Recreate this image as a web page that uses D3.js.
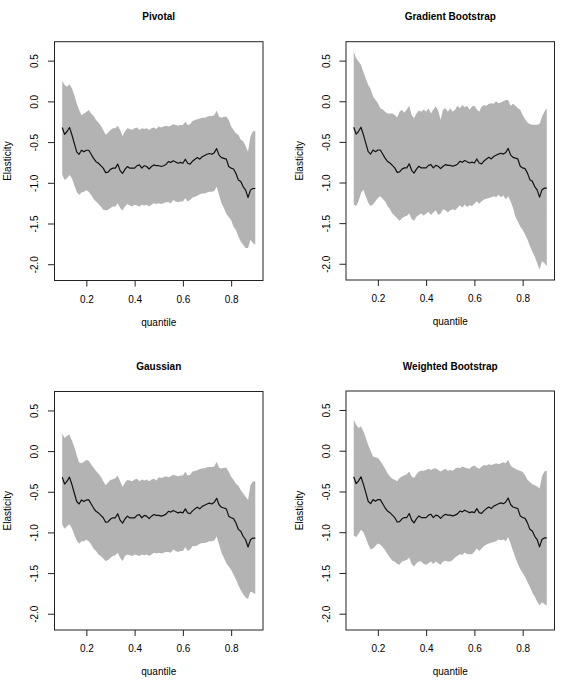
<!DOCTYPE html>
<html><head><meta charset="utf-8">
<script src="https://cdn.jsdelivr.net/npm/d3@7"></script>
<style>
body{margin:0;background:#fff;}
svg text{font-family:"Liberation Sans",Arial,Helvetica,sans-serif;fill:#000;}
</style></head>
<body><svg id="c" width="570" height="690"></svg>
<script>
const quantiles = [0.10,0.11,0.12,0.13,0.14,0.15,0.16,0.17,0.18,0.19,0.20,0.21,0.22,0.23,0.24,0.25,0.26,0.27,0.28,0.29,0.30,0.31,0.32,0.33,0.34,0.35,0.36,0.37,0.38,0.39,0.40,0.41,0.42,0.43,0.44,0.45,0.46,0.47,0.48,0.49,0.50,0.51,0.52,0.53,0.54,0.55,0.56,0.57,0.58,0.59,0.60,0.61,0.62,0.63,0.64,0.65,0.66,0.67,0.68,0.69,0.70,0.71,0.72,0.73,0.74,0.75,0.76,0.77,0.78,0.79,0.80,0.81,0.82,0.83,0.84,0.85,0.86,0.87,0.88,0.89,0.90];

const estimate = [-0.32,-0.405,-0.37,-0.32,-0.41,-0.515,-0.62,-0.65,-0.60,-0.62,-0.60,-0.60,-0.65,-0.70,-0.74,-0.76,-0.79,-0.82,-0.875,-0.87,-0.835,-0.82,-0.82,-0.77,-0.85,-0.885,-0.835,-0.80,-0.82,-0.82,-0.82,-0.79,-0.78,-0.82,-0.79,-0.80,-0.83,-0.80,-0.78,-0.79,-0.79,-0.80,-0.79,-0.775,-0.74,-0.75,-0.73,-0.745,-0.76,-0.75,-0.76,-0.71,-0.76,-0.77,-0.735,-0.71,-0.69,-0.71,-0.68,-0.665,-0.65,-0.64,-0.65,-0.63,-0.58,-0.66,-0.69,-0.70,-0.71,-0.80,-0.82,-0.83,-0.885,-0.965,-0.985,-1.05,-1.09,-1.18,-1.09,-1.07,-1.07];

const pivotalUpper = [0.25,0.20,0.18,0.21,0.16,0.08,-0.025,-0.105,-0.17,-0.15,-0.13,-0.105,-0.15,-0.18,-0.23,-0.26,-0.30,-0.35,-0.41,-0.385,-0.35,-0.33,-0.33,-0.30,-0.35,-0.425,-0.37,-0.33,-0.34,-0.35,-0.33,-0.32,-0.35,-0.33,-0.34,-0.33,-0.35,-0.33,-0.32,-0.34,-0.31,-0.32,-0.31,-0.30,-0.31,-0.30,-0.28,-0.29,-0.30,-0.29,-0.29,-0.25,-0.29,-0.28,-0.24,-0.23,-0.22,-0.21,-0.20,-0.20,-0.19,-0.18,-0.18,-0.17,-0.115,-0.19,-0.20,-0.19,-0.19,-0.23,-0.31,-0.35,-0.39,-0.41,-0.47,-0.49,-0.55,-0.62,-0.43,-0.37,-0.36];
const pivotalLower = [-0.90,-0.965,-0.945,-0.905,-0.945,-1.03,-1.11,-1.15,-1.12,-1.11,-1.09,-1.11,-1.15,-1.20,-1.23,-1.26,-1.29,-1.33,-1.34,-1.33,-1.31,-1.29,-1.29,-1.25,-1.31,-1.34,-1.29,-1.26,-1.28,-1.29,-1.27,-1.28,-1.29,-1.27,-1.28,-1.27,-1.29,-1.27,-1.25,-1.26,-1.25,-1.26,-1.25,-1.24,-1.24,-1.25,-1.21,-1.23,-1.24,-1.23,-1.23,-1.19,-1.23,-1.21,-1.18,-1.17,-1.16,-1.14,-1.13,-1.13,-1.12,-1.11,-1.11,-1.10,-1.05,-1.15,-1.25,-1.31,-1.38,-1.42,-1.46,-1.54,-1.58,-1.66,-1.72,-1.76,-1.80,-1.80,-1.70,-1.74,-1.76];

const gradientUpper = [0.61,0.53,0.49,0.45,0.36,0.28,0.20,0.15,0.06,0.02,-0.02,-0.085,-0.10,-0.13,-0.15,-0.15,-0.15,-0.17,-0.20,-0.13,-0.105,-0.14,-0.10,-0.055,-0.17,-0.21,-0.15,-0.115,-0.13,-0.10,-0.13,-0.085,-0.15,-0.10,-0.065,-0.115,-0.23,-0.105,-0.085,-0.13,-0.085,-0.13,-0.105,-0.055,-0.085,-0.045,-0.075,-0.055,-0.105,-0.065,-0.055,-0.10,-0.13,-0.065,-0.045,-0.055,-0.03,-0.025,-0.03,0.0,-0.025,-0.015,0.0,0.015,0.015,-0.055,-0.03,-0.055,-0.085,-0.105,-0.17,-0.22,-0.26,-0.28,-0.29,-0.29,-0.29,-0.28,-0.19,-0.13,-0.085];
const gradientLower = [-1.27,-1.29,-1.23,-1.13,-1.09,-1.17,-1.25,-1.29,-1.27,-1.23,-1.19,-1.17,-1.20,-1.23,-1.29,-1.33,-1.38,-1.41,-1.44,-1.47,-1.44,-1.42,-1.41,-1.38,-1.45,-1.47,-1.42,-1.40,-1.38,-1.41,-1.38,-1.36,-1.40,-1.37,-1.34,-1.40,-1.38,-1.33,-1.34,-1.37,-1.34,-1.33,-1.34,-1.31,-1.28,-1.31,-1.27,-1.30,-1.28,-1.29,-1.26,-1.23,-1.26,-1.23,-1.21,-1.20,-1.19,-1.18,-1.17,-1.18,-1.15,-1.18,-1.16,-1.21,-1.17,-1.23,-1.31,-1.42,-1.48,-1.54,-1.58,-1.64,-1.70,-1.78,-1.85,-1.91,-1.99,-2.07,-1.97,-1.99,-2.03];

const gaussianUpper = [0.215,0.16,0.19,0.20,0.13,0.05,-0.05,-0.14,-0.15,-0.13,-0.11,-0.12,-0.165,-0.205,-0.245,-0.275,-0.315,-0.37,-0.42,-0.385,-0.355,-0.345,-0.335,-0.30,-0.37,-0.44,-0.385,-0.355,-0.36,-0.37,-0.35,-0.34,-0.37,-0.35,-0.36,-0.35,-0.37,-0.35,-0.34,-0.36,-0.32,-0.33,-0.32,-0.31,-0.32,-0.31,-0.29,-0.30,-0.31,-0.30,-0.30,-0.255,-0.30,-0.29,-0.25,-0.245,-0.235,-0.22,-0.215,-0.21,-0.20,-0.195,-0.195,-0.19,-0.13,-0.205,-0.215,-0.205,-0.205,-0.255,-0.315,-0.355,-0.40,-0.425,-0.48,-0.52,-0.56,-0.60,-0.42,-0.375,-0.37];
const gaussianLower = [-0.905,-0.955,-0.925,-0.90,-0.95,-1.03,-1.10,-1.14,-1.11,-1.11,-1.09,-1.11,-1.15,-1.20,-1.23,-1.27,-1.29,-1.32,-1.35,-1.34,-1.31,-1.29,-1.28,-1.25,-1.31,-1.35,-1.29,-1.27,-1.28,-1.29,-1.27,-1.28,-1.29,-1.27,-1.28,-1.27,-1.29,-1.27,-1.25,-1.26,-1.25,-1.26,-1.25,-1.24,-1.24,-1.25,-1.21,-1.23,-1.24,-1.23,-1.23,-1.18,-1.23,-1.21,-1.17,-1.17,-1.16,-1.14,-1.13,-1.13,-1.12,-1.11,-1.11,-1.10,-1.05,-1.15,-1.25,-1.31,-1.38,-1.42,-1.46,-1.52,-1.58,-1.65,-1.71,-1.76,-1.80,-1.82,-1.73,-1.74,-1.76];

const weightedUpper = [0.38,0.32,0.28,0.30,0.24,0.16,0.07,0.0,-0.07,-0.08,-0.09,-0.125,-0.17,-0.22,-0.275,-0.315,-0.345,-0.355,-0.375,-0.335,-0.315,-0.30,-0.29,-0.255,-0.315,-0.335,-0.29,-0.255,-0.245,-0.245,-0.235,-0.22,-0.235,-0.22,-0.215,-0.235,-0.255,-0.235,-0.22,-0.245,-0.235,-0.245,-0.22,-0.205,-0.215,-0.195,-0.205,-0.215,-0.22,-0.195,-0.18,-0.205,-0.22,-0.195,-0.175,-0.18,-0.165,-0.175,-0.165,-0.155,-0.165,-0.155,-0.14,-0.155,-0.11,-0.18,-0.205,-0.22,-0.235,-0.245,-0.26,-0.30,-0.355,-0.385,-0.41,-0.425,-0.44,-0.465,-0.315,-0.255,-0.245];
const weightedLower = [-1.04,-1.06,-1.02,-0.97,-1.00,-1.07,-1.15,-1.21,-1.20,-1.17,-1.14,-1.15,-1.18,-1.22,-1.27,-1.31,-1.35,-1.36,-1.39,-1.40,-1.36,-1.35,-1.34,-1.31,-1.39,-1.42,-1.38,-1.36,-1.36,-1.39,-1.40,-1.38,-1.36,-1.39,-1.36,-1.38,-1.40,-1.36,-1.35,-1.36,-1.36,-1.34,-1.31,-1.29,-1.27,-1.28,-1.25,-1.27,-1.27,-1.27,-1.24,-1.20,-1.23,-1.20,-1.17,-1.15,-1.14,-1.13,-1.12,-1.11,-1.09,-1.10,-1.09,-1.11,-1.06,-1.14,-1.23,-1.31,-1.39,-1.45,-1.50,-1.55,-1.61,-1.67,-1.74,-1.79,-1.85,-1.90,-1.86,-1.88,-1.90];

const titles = ["Pivotal","Gradient Bootstrap","Gaussian","Weighted Bootstrap"];
const xTicks = [0.2,0.4,0.6,0.8];
const yTicks = [-2.0,-1.5,-1.0,-0.5,0.0,0.5];
const xLabel = "quantile";
const yLabel = "Elasticity";

const panels = [
  {title:titles[0], upper:pivotalUpper, lower:pivotalLower, box:[54.5,263,41.7,280.5]},
  {title:titles[1], upper:gradientUpper, lower:gradientLower, box:[346,554.5,41.7,280]},
  {title:titles[2], upper:gaussianUpper, lower:gaussianLower, box:[54.5,263,391.5,630]},
  {title:titles[3], upper:weightedUpper, lower:weightedLower, box:[346,554.5,391,630]}
];

const svg = d3.select("#c");

panels.forEach(p => {
  const [x0,x1,y0,y1] = p.box;
  const x = d3.scaleLinear().domain([0.068,0.932]).range([x0,x1]);
  const y = d3.scaleLinear().domain([-2.2,0.733]).range([y1,y0]);
  const g = svg.append("g");
  const idx = d3.range(quantiles.length);

  g.append("path")
    .attr("d", d3.area().x(i=>x(quantiles[i])).y0(i=>y(p.lower[i])).y1(i=>y(p.upper[i]))(idx))
    .attr("fill","#b3b3b3").attr("stroke","none");

  g.append("path")
    .attr("d", d3.line().x(i=>x(quantiles[i])).y(i=>y(estimate[i]))(idx))
    .attr("fill","none").attr("stroke","#111").attr("stroke-width",1.2).attr("stroke-linejoin","round");

  g.append("rect").attr("x",x0).attr("y",y0).attr("width",x1-x0).attr("height",y1-y0)
    .attr("fill","none").attr("stroke","#222").attr("stroke-width",1);

  const xa = g.append("g").attr("transform",`translate(0,${y1})`)
    .call(d3.axisBottom(x).tickValues(xTicks).tickSize(6).tickSizeOuter(0).tickPadding(9).tickFormat(d=>d.toFixed(1)));
  xa.select(".domain").remove();
  xa.selectAll("line").attr("stroke","#222");
  xa.selectAll("text").attr("font-size",10).attr("fill","#000");

  const ya = g.append("g").attr("transform",`translate(${x0},0)`)
    .call(d3.axisLeft(y).tickValues(yTicks).tickSize(6.5).tickSizeOuter(0).tickFormat(d=>d.toFixed(1)));
  ya.select(".domain").remove();
  ya.selectAll("line").attr("stroke","#222");
  ya.selectAll("text")
    .attr("font-size",10).attr("fill","#000")
    .attr("x",null).attr("dy",null)
    .attr("text-anchor","middle")
    .attr("transform","translate(-20,0) rotate(-90)")
    .attr("dy","0.35em");

  g.append("text").attr("x",(x0+x1)/2).attr("y",y0-24)
    .attr("text-anchor","middle").attr("dominant-baseline","middle")
    .attr("font-weight","bold").attr("font-size",10).text(p.title);

  g.append("text").attr("x",(x0+x1)/2).attr("y",y1+42.5)
    .attr("text-anchor","middle").attr("dominant-baseline","middle")
    .attr("font-size",10).text(xLabel);

  g.append("text")
    .attr("transform",`translate(${x0-46},${(y0+y1)/2}) rotate(-90)`)
    .attr("text-anchor","middle").attr("dominant-baseline","middle")
    .attr("font-size",10).text(yLabel);
});
</script></body></html>
